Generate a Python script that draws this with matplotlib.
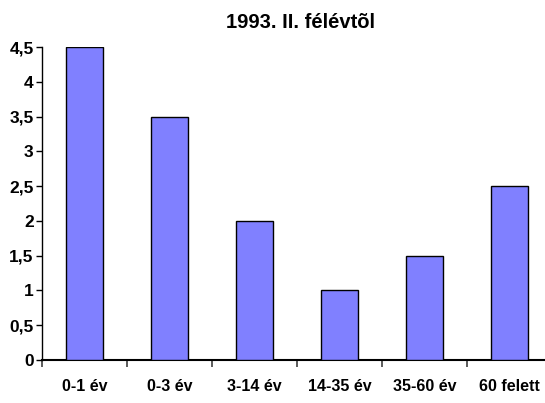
import matplotlib
matplotlib.use("Agg")
import matplotlib.pyplot as plt
import numpy as np

categories = ["0-1 év", "0-3 év", "3-14 év", "14-35 év", "35-60 év", "60 felett"]
values = [4.5, 3.5, 2.0, 1.0, 1.5, 2.5]
yticks = [0, 0.5, 1, 1.5, 2, 2.5, 3, 3.5, 4, 4.5]
ytick_labels = ["0", "0,5", "1", "1,5", "2", "2,5", "3", "3,5", "4", "4,5"]
title = "1993. II. félévtõl"

plt.rcParams['font.family'] = ['Liberation Sans', 'DejaVu Sans']
fig = plt.figure(figsize=(5.45, 4.03), dpi=100)
ax = fig.add_axes([42/545, 1-360/403, 510/545, (360-47)/403])
x = np.arange(len(categories))
ax.bar(x, values, width=0.44, color="#8080FF", edgecolor="black", linewidth=1.0, zorder=3)
ax.set_xlim(-0.5, len(categories) - 0.5)
ax.set_ylim(0, 4.5)
ax.set_yticks(yticks)
ax.set_yticklabels(ytick_labels, fontsize=12.5, fontweight="bold")
ax.set_xticks(x)
ax.set_xticklabels(categories, fontsize=11.5, fontweight="bold")
ax.tick_params(axis="x", length=0, pad=14)
ax.set_xticks(np.arange(len(categories) + 1) - 0.5, minor=True)
ax.tick_params(axis="x", which="minor", length=5, direction="out", width=1.2, color="#404040")
ax.tick_params(axis="y", length=4, direction="out", width=1, pad=2)
for s in ["top", "right"]:
    ax.spines[s].set_visible(False)
ax.spines["bottom"].set_linewidth(1.5)
ax.spines["left"].set_linewidth(1.0)
fig.text(301/545, 1-22/403, title, ha="center", va="center", fontsize=14.5, fontweight="bold")
fig.savefig("out.png", dpi=100)
